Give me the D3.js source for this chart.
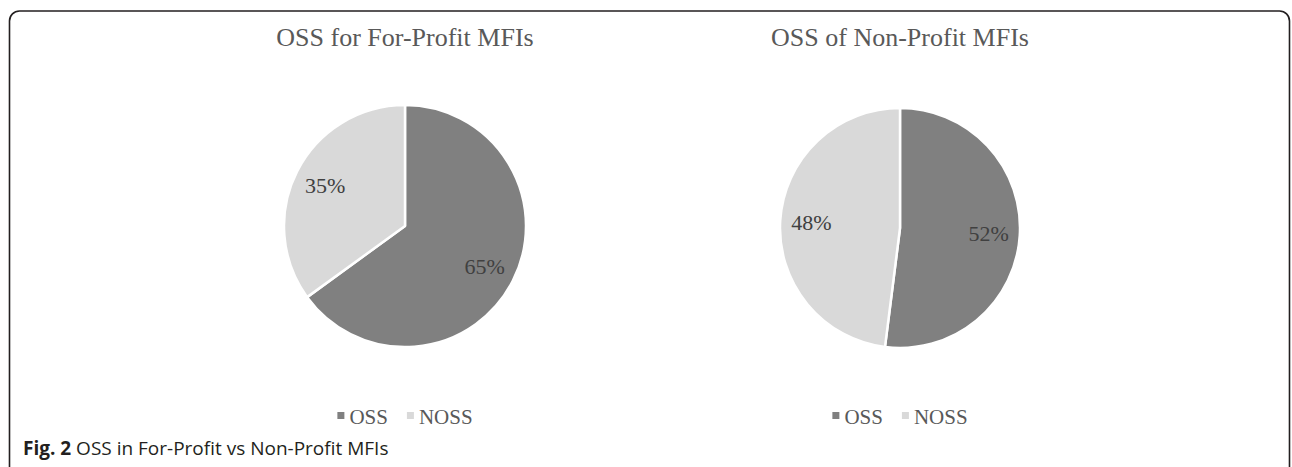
<!DOCTYPE html>
<html>
<head>
<meta charset="utf-8">
<script src="https://cdn.jsdelivr.net/npm/d3@7"></script>
<style>
	body { margin:0; background:#fff; }
	svg { display:block; }
</style>
</head>
<body>
<div id="chart"></div>
<script>
//two excel style pie charts side by side, with the figure caption below

//data
var categories = ["OSS", "NOSS"];
var titles = ["OSS for For-Profit MFIs", "OSS of Non-Profit MFIs"];
var forProfit = [65, 35];
var nonProfit = [52, 48];
var caption_bold = "Fig. 2";
var caption_text = " OSS in For-Profit vs Non-Profit MFIs";

//sizes and colours
var svg_size = {w:1292, h:467};
var colors = ["#808080", "#d9d9d9"];
var serif = "'Liberation Serif', 'Times New Roman', serif";
var pies = [
	{title: titles[0], values: forProfit, cx: 405, cy: 226, r: 121, legendY: 424},
	{title: titles[1], values: nonProfit, cx: 900, cy: 228, r: 120, legendY: 424}
];

var svg = d3.select("#chart")
	.append("svg")
	.attr("width", svg_size.w)
	.attr("height", svg_size.h);

//frame round the figure, rounded on top and open at the bottom
svg.append("path")
	.attr("d", "M9.5,467 V21 A10,10 0 0 1 19.5,11 H1279.5 A10,10 0 0 1 1289.5,21 V467")
	.attr("fill", "none")
	.attr("stroke", "#231f20")
	.attr("stroke-width", 1.6);

var pie = d3.pie().sort(null).value(function(d) { return d; });
var color = d3.scaleOrdinal().domain(categories).range(colors);

function drawPie(p) {
	var g = svg.append("g");

	g.append("text")
		.attr("x", p.cx)
		.attr("y", 46)
		.attr("text-anchor", "middle")
		.attr("font-family", serif)
		.attr("font-size", 26)
		.attr("fill", "#595959")
		.text(p.title);

	var arc = d3.arc().innerRadius(0).outerRadius(p.r);
	var labelArc = d3.arc().innerRadius(p.r*0.74).outerRadius(p.r*0.74);
	var slices = pie(p.values);

	var pg = g.append("g").attr("transform", "translate(" + p.cx + "," + p.cy + ")");

	pg.selectAll("path")
		.data(slices).enter()
		.append("path")
			.attr("d", arc)
			.attr("fill", function(d, i) { return color(categories[i]); })
			.attr("stroke", "#fff")
			.attr("stroke-width", 2.5)
			.attr("stroke-linejoin", "round");

	pg.selectAll("text")
		.data(slices).enter()
		.append("text")
			.attr("transform", function(d) { return "translate(" + labelArc.centroid(d) + ")"; })
			.attr("dy", "0.35em")
			.attr("text-anchor", "middle")
			.attr("font-family", serif)
			.attr("font-size", 22)
			.attr("fill", "#404040")
			.text(function(d) { return d.data + "%"; });

	//legend under the pie
	var lg = g.append("g");
	var x = 0;
	categories.forEach(function(c, i) {
		lg.append("rect")
			.attr("x", x)
			.attr("y", p.legendY - 12)
			.attr("width", 7)
			.attr("height", 7)
			.attr("fill", color(c));
		var t = lg.append("text")
			.attr("x", x + 12)
			.attr("y", p.legendY)
			.attr("font-family", serif)
			.attr("font-size", 21)
			.attr("fill", "#595959")
			.text(c);
		x += 12 + t.node().getComputedTextLength() + 19;
	});
	var lw = x - 19;
	lg.attr("transform", "translate(" + (p.cx - lw/2) + ",0)");
}

pies.forEach(drawPie);

//figure caption
var cap = svg.append("text")
	.attr("x", 23)
	.attr("y", 455)
	.attr("font-family", "'Open Sans', 'Noto Sans', sans-serif")
	.attr("font-size", 19)
	.attr("fill", "#231f20");
cap.append("tspan").attr("font-weight", "bold").text(caption_bold);
cap.append("tspan").text(caption_text);
</script>
</body>
</html>
